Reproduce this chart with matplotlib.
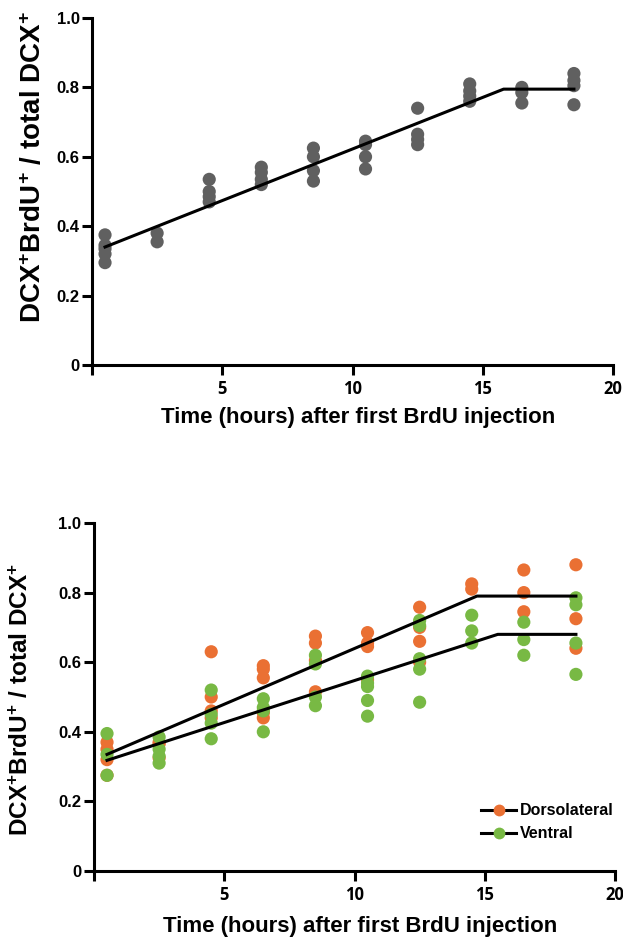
import matplotlib
matplotlib.use("Agg")
import matplotlib.pyplot as plt
from matplotlib.lines import Line2D

plt.rcParams["font.family"] = ["Liberation Sans", "DejaVu Sans"]
plt.rcParams["font.weight"] = "bold"
plt.rcParams["mathtext.fontset"] = "custom"
plt.rcParams["mathtext.rm"] = "Liberation Sans:bold"
plt.rcParams["mathtext.it"] = "Liberation Sans:bold"
plt.rcParams["mathtext.bf"] = "Liberation Sans:bold"

# sampling times (hours after first BrdU injection)
times = [0.5, 2.5, 4.5, 6.5, 8.5, 10.5, 12.5, 14.5, 16.5, 18.5]

# top panel: all animals
all_vals = [
    [0.375, 0.345, 0.335, 0.32, 0.295],
    [0.38, 0.355],
    [0.535, 0.50, 0.485, 0.47],
    [0.57, 0.555, 0.535, 0.52],
    [0.625, 0.60, 0.56, 0.53],
    [0.645, 0.635, 0.60, 0.565],
    [0.74, 0.665, 0.65, 0.635],
    [0.81, 0.79, 0.775, 0.76],
    [0.80, 0.785, 0.755],
    [0.84, 0.82, 0.805, 0.75],
]
fit_all_x = [0.5, 15.8, 18.5]
fit_all_y = [0.34, 0.795, 0.795]

# bottom panel: dorsolateral vs ventral
dl_vals = [
    [0.37, 0.35, 0.32, 0.275],
    [0.37, 0.365, 0.325],
    [0.63, 0.50, 0.46, 0.44],
    [0.59, 0.58, 0.555, 0.455, 0.44],
    [0.675, 0.655, 0.605, 0.515],
    [0.685, 0.655, 0.645, 0.55],
    [0.758, 0.70, 0.66, 0.60],
    [0.825, 0.81],
    [0.865, 0.80, 0.745],
    [0.88, 0.725, 0.64],
]
ve_vals = [
    [0.395, 0.335, 0.275],
    [0.385, 0.35, 0.33, 0.31],
    [0.52, 0.45, 0.425, 0.38],
    [0.495, 0.47, 0.46, 0.40],
    [0.62, 0.595, 0.50, 0.475],
    [0.56, 0.54, 0.53, 0.49, 0.445],
    [0.72, 0.705, 0.61, 0.58, 0.485],
    [0.735, 0.69, 0.655],
    [0.715, 0.665, 0.62],
    [0.785, 0.765, 0.655, 0.565],
]
fit_dl_x = [0.5, 14.7, 18.5]
fit_dl_y = [0.335, 0.79, 0.79]
fit_ve_x = [0.5, 15.5, 18.5]
fit_ve_y = [0.318, 0.68, 0.68]

GRAY = "#606060"
ORANGE = "#EA7033"
GREEN = "#78B944"
YLABEL = r"DCX$^{+}$BrdU$^{+}$ / total DCX$^{+}$"
XLABEL = "Time (hours) after first BrdU injection"


def flatten(vals):
    xs, ys = [], []
    for t, col in zip(times, vals):
        for v in col:
            xs.append(t)
            ys.append(v)
    return xs, ys


def style_axes(ax):
    for s in ["top", "right"]:
        ax.spines[s].set_visible(False)
    for s in ["left", "bottom"]:
        ax.spines[s].set_linewidth(2.2)
    ax.set_xlim(0, 20)
    ax.set_ylim(0, 1.0)
    ax.set_xticks([0, 5, 10, 15, 20])
    ax.set_xticklabels(["", "5", "10", "15", "20"], fontfamily="Open Sans",
                       fontweight="bold", fontsize=12)
    ax.set_yticks([0, 0.2, 0.4, 0.6, 0.8, 1.0])
    ax.set_yticklabels(["0", "0.2", "0.4", "0.6", "0.8", "1.0"], fontsize=12,
                       fontweight="bold")
    ax.tick_params(axis="both", direction="out", length=7, width=2.2)
    ax.tick_params(axis="x", pad=4)
    ax.tick_params(axis="y", pad=2)


fig = plt.figure(figsize=(6.23, 9.41), dpi=100)

# ---- top panel
ax1 = fig.add_axes([92 / 623, 1 - 365 / 941, 521 / 623, 347 / 941])
x, y = flatten(all_vals)
ax1.scatter(x, y, s=90, color=GRAY, edgecolors="none", zorder=2, clip_on=False)
ax1.plot(fit_all_x, fit_all_y, color="black", lw=2.2, zorder=3)
style_axes(ax1)
ax1.set_xlabel(XLABEL, fontsize=16, fontweight="bold")
ax1.xaxis.set_label_coords(0.51, -0.12)
ax1.set_ylabel(YLABEL, fontsize=20, fontweight="bold", va="center")
ax1.yaxis.set_label_coords(-0.112, 0.57)

# ---- bottom panel
ax2 = fig.add_axes([94 / 623, 1 - 871 / 941, 521 / 623, 348 / 941])
x, y = flatten(dl_vals)
ax2.scatter(x, y, s=90, color=ORANGE, edgecolors="none", zorder=2, clip_on=False)
x, y = flatten(ve_vals)
ax2.scatter(x, y, s=90, color=GREEN, edgecolors="none", zorder=2, clip_on=False)
ax2.plot(fit_dl_x, fit_dl_y, color="black", lw=2.2, zorder=3)
ax2.plot(fit_ve_x, fit_ve_y, color="black", lw=2.2, zorder=3)
style_axes(ax2)
ax2.set_xlabel(XLABEL, fontsize=16, fontweight="bold")
ax2.xaxis.set_label_coords(0.51, -0.13)
ax2.set_ylabel(YLABEL, fontsize=17.5, fontweight="bold", va="center")
ax2.yaxis.set_label_coords(-0.140, 0.494)

handles = [
    Line2D([], [], color="black", lw=2.2, marker="o", ms=8.5, mfc=ORANGE, mec="none"),
    Line2D([], [], color="black", lw=2.2, marker="o", ms=8.5, mfc=GREEN, mec="none"),
]
leg = ax2.legend(handles, ["Dorsolateral", "Ventral"], loc="upper left",
                 bbox_to_anchor=(0.728, 0.218), frameon=False, handlelength=2.2,
                 handletextpad=0.2, labelspacing=0.5, borderpad=0,
                 prop={"family": "Liberation Sans", "weight": "bold", "size": 11.5})

fig.savefig("out.png", dpi=100)
